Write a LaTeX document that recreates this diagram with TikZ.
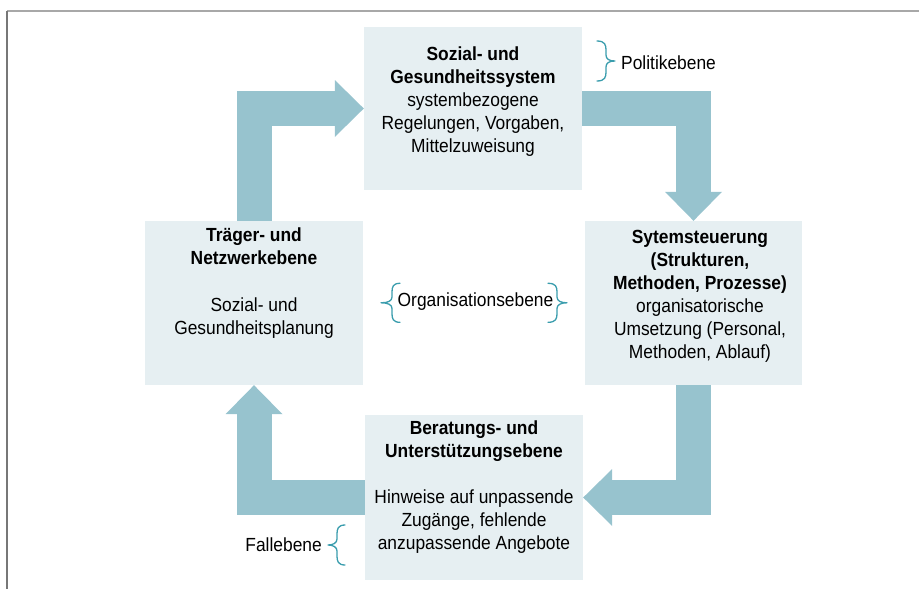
\documentclass[tikz,border=0pt]{standalone}
\usepackage{fontspec}
\setmainfont{Liberation Sans}[FakeStretch=0.915]
\usetikzlibrary{arrows.meta,calc}
\definecolor{boxc}{HTML}{E6EFF2}
\definecolor{arrowc}{HTML}{97C3CE}
\definecolor{bracec}{HTML}{3A9DAD}
\definecolor{frametop}{HTML}{A8A8A8}
\definecolor{frameleft}{HTML}{777777}
\begin{document}
\begin{tikzpicture}[x=1pt,y=-1pt,
  box/.style={fill=boxc, draw=none, minimum width=218pt, minimum height=164pt, inner sep=0pt},
  txt/.style={inner sep=0pt, align=center, font=\fontsize{19}{23}\selectfont, text=black},
  lbl/.style={inner sep=0pt, font=\fontsize{19}{23}\selectfont, text=black},
  flow/.style={draw=arrowc, line width=35pt, line join=miter, line cap=butt,
    -{Triangle[length=29pt,width=57pt,line width=0pt]}},
  bracel/.style={draw=bracec, line width=1.3pt, line cap=round, line join=round}
]
\useasboundingbox (0,0) rectangle (919,589);
% frame
\draw[frametop, line width=1.5pt] (919,11) -- (7,11);
\draw[frameleft, line width=1.5pt] (7,11) -- (7,589);

% boxes
\node[box, minimum height=163pt] (top) at (473,108.5) {};
\node[box] (left) at (254,303) {};
\node[box, minimum width=217pt] (right) at (693.5,303) {};
\node[box, minimum height=165pt] (bottom) at (474,497.5) {};

% arrows
\draw[flow] (left.north) |- (top.west);
\draw[flow] (top.east) -| (right.north);
\draw[flow] (right.south) |- (bottom.east);
\draw[flow] (bottom.west) -| (left.south);

% texts
\node[txt, anchor=north] (toptext) at (473,46.5) {\textbf{Sozial- und}\\\textbf{Gesundheitssystem}\\systembezogene\\Regelungen, Vorgaben,\\Mittelzuweisung};
\node[txt, anchor=north] (lefttext) at (254,228) {\textbf{Träger- und}\\\textbf{Netzwerkebene}\\[23.5pt]Sozial- und\\Gesundheitsplanung};
\node[txt, anchor=north] (righttext) at (700,230.5) {\textbf{Sytemsteuerung}\\\textbf{(Strukturen,}\\\textbf{Methoden, Prozesse)}\\organisatorische\\Umsetzung (Personal,\\Methoden, Ablauf)};
\node[txt, anchor=north] (bottomtext) at (474,421) {\textbf{Beratungs- und}\\\textbf{Unterstützungsebene}\\[23pt]Hinweise auf unpassende\\Zugänge, fehlende\\anzupassende Angebote};

% level labels
\node[lbl, anchor=base west] (pol) at (621,69) {Politikebene};
\node[lbl, anchor=base] (org) at (475.5,306.7) {Organisationsebene};
\node[lbl, anchor=base east] (fall) at (322,551.7) {Fallebene};

% braces
\draw[bracel] (597,41) .. controls (605,41) and (606,45) .. (606,50) -- (606,55) .. controls (606,59) and (609,61) .. (615,61) .. controls (609,61) and (606,63) .. (606,67) -- (606,72) .. controls (606,77) and (605,81) .. (597,81);
\draw[bracel] (400,283.3) .. controls (393,283.3) and (392,287) .. (392,292) -- (392,297) .. controls (392,301) and (388,302.8) .. (381,302.8) .. controls (388,302.8) and (392,304.6) .. (392,308.6) -- (392,313.6) .. controls (392,318.6) and (393,322.3) .. (400,322.3);
\draw[bracel] (548,283.3) .. controls (556,283.3) and (557,287) .. (557,292) -- (557,297) .. controls (557,301) and (561,302.8) .. (567,302.8) .. controls (561,302.8) and (557,304.6) .. (557,308.6) -- (557,313.6) .. controls (557,318.6) and (556,322.3) .. (548,322.3);
\draw[bracel] (345,525) .. controls (338,525) and (337,529) .. (337,534) -- (337,539) .. controls (337,543) and (333,545) .. (328,545) .. controls (333,545) and (337,547) .. (337,551) -- (337,556) .. controls (337,561) and (338,565) .. (345,565);
\end{tikzpicture}
\end{document}
